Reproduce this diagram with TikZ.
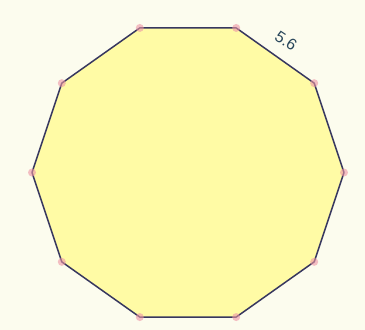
\documentclass[tikz,border=0pt]{standalone}
\usepackage{fontspec}
\setmainfont{Liberation Sans}
\definecolor{bgcream}{RGB}{252,252,238}
\definecolor{polyfill}{RGB}{255,251,165}
\definecolor{edgenavy}{RGB}{55,55,95}
\definecolor{dotpink}{RGB}{238,150,165}
\definecolor{labelslate}{RGB}{40,70,90}

\begin{document}
\begin{tikzpicture}[x=1pt, y=-1pt,
    vtx/.style={circle, fill=dotpink, opacity=0.6, inner sep=0pt,
        minimum size=8pt},
    side/.style={draw=edgenavy, line width=1.5pt, line join=round,
        fill=polyfill},
    lenlabel/.style={font=\fontsize{16}{18}\selectfont, text=labelslate}
]
    \fill[bgcream] (0,0) rectangle (365,330);
    \useasboundingbox (0,0) rectangle (365,330);

    % corners of the decagon
    \foreach \i in {0,...,9}
        \coordinate (v\i) at ({188+156*cos(36*\i)}, {172.5-152*sin(36*\i)});

    \path[side] (v0) -- (v1) -- (v2) -- (v3) -- (v4) -- (v5)
        -- (v6) -- (v7) -- (v8) -- (v9) -- cycle;

    \foreach \i in {0,...,9}
        \node[vtx] (d\i) at (v\i) {};

    \node[lenlabel, rotate=-33.5] (len) at (286,41) {5.6};
\end{tikzpicture}
\end{document}
